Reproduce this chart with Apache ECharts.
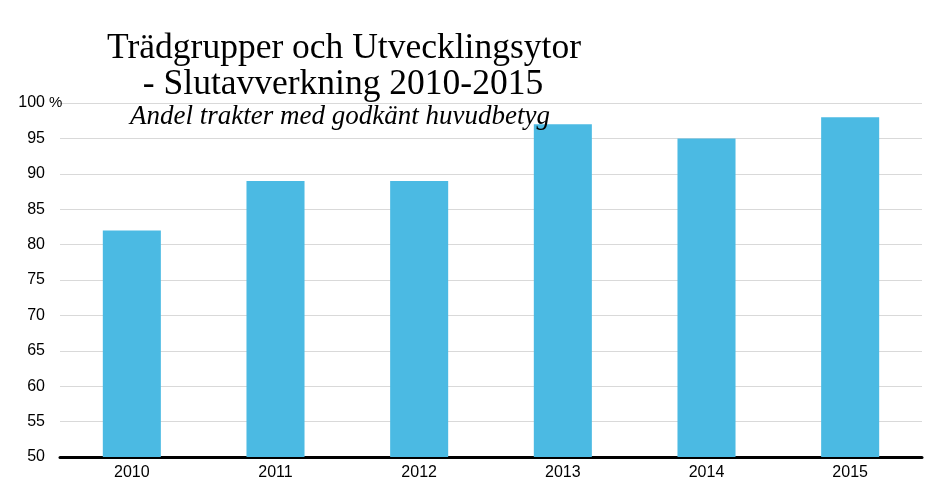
<!DOCTYPE html>
<html><head><meta charset="utf-8">
<script src="https://cdn.jsdelivr.net/npm/echarts@6/dist/echarts.min.js"></script>
<style>html,body{margin:0;padding:0;background:#fff}#c{width:940px;height:488px}</style>
</head><body><div id="c"></div>
<script>
const categories = ['2010','2011','2012','2013','2014','2015'];
const values = [82, 89, 89, 97, 95, 98];
const titleLine1 = 'Trädgrupper och Utvecklingsytor';
const titleLine2 = '- Slutavverkning 2010-2015';
const subtitle = 'Andel trakter med godkänt huvudbetyg';

const chart = echarts.init(document.getElementById('c'), null, {renderer:'canvas'});
chart.setOption({
  animation: false,
  backgroundColor: '#fff',
  title: [
    {text: titleLine1, left: 339, top: 26, textAlign: 'center',
     textStyle: {fontFamily: 'Liberation Serif', fontWeight: 'normal', fontSize: 35.5, color: '#000'}},
    {text: titleLine2, left: 338, top: 62, textAlign: 'center',
     textStyle: {fontFamily: 'Liberation Serif', fontWeight: 'normal', fontSize: 35.5, color: '#000'}},
    {text: subtitle, left: 335, top: 98, textAlign: 'center',
     textStyle: {fontFamily: 'Liberation Serif', fontStyle: 'italic', fontWeight: 'normal', fontSize: 27, color: '#000'}}
  ],
  grid: {left: 60, right: 18, top: 103, bottom: 31, containLabel: false},
  xAxis: {
    type: 'category', data: categories,
    axisLine: {lineStyle: {color: '#000', width: 3}},
    axisTick: {show: false},
    axisLabel: {color: '#000', fontFamily: 'Liberation Sans', fontSize: 16, margin: 8}
  },
  yAxis: {
    type: 'value', min: 50, max: 100, interval: 5,
    axisLine: {show: false}, axisTick: {show: false},
    splitLine: {lineStyle: {color: '#d9d9d9', width: 1}},
    axisLabel: {
      color: '#000', fontFamily: 'Liberation Sans', fontSize: 16, margin: -2,
      formatter: v => '{n|' + v + '}{p|' + (v === 100 ? ' %' : '') + '}',
      rich: {n: {fontFamily: 'Liberation Sans', fontSize: 16, color: '#000'},
             p: {fontFamily: 'Liberation Sans', fontSize: 15, color: '#000', width: 17, align: 'left'}}
    }
  },
  series: [{
    type: 'bar', data: values, barWidth: '40.4%',
    itemStyle: {color: '#4BBAE3'}
  }]
});
</script></body></html>
